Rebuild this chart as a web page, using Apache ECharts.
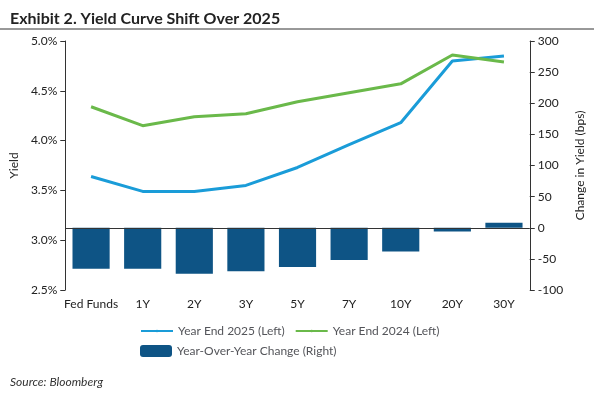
<!DOCTYPE html>
<html><head><meta charset="utf-8">
<script src="https://cdn.jsdelivr.net/npm/echarts@6/dist/echarts.min.js"></script>
<style>body{margin:0;background:#fff}#c{width:594px;height:401px}</style>
</head><body><div id="c"></div>
<script>
const categories=['Fed Funds','1Y','2Y','3Y','5Y','7Y','10Y','20Y','30Y'];
const ye2025=[3.64,3.49,3.49,3.55,3.73,3.96,4.18,4.80,4.85];
const ye2024=[4.34,4.15,4.24,4.27,4.39,4.48,4.57,4.86,4.79];
const yoyChange=[-66,-66,-74,-70,-63,-52,-38,-6,8];
const c=echarts.init(document.getElementById('c'));
const f='Lato, "Open Sans", sans-serif';
c.setOption({
 animation:false,
 textStyle:{fontFamily:f,color:'#222'},
 title:[{text:'Exhibit 2. Yield Curve Shift Over 2025',left:5,top:6,textStyle:{fontSize:16,fontWeight:'bold',color:'#222',fontFamily:f}},
        {text:'Source: Bloomberg',left:5,top:371,textStyle:{fontSize:12,fontStyle:'italic',fontWeight:'normal',color:'#333',fontFamily:f}}],
 graphic:[{type:'line',shape:{x1:0,y1:29,x2:594,y2:29},style:{stroke:'#333',lineWidth:1}}],
 legend:[{data:['Year End 2025 (Left)','Year End 2024 (Left)'],left:135,top:320,itemWidth:32,itemHeight:3,itemGap:10,textStyle:{fontSize:12,fontFamily:f}},
         {data:['Year-Over-Year Change (Right)'],left:135,top:340,itemWidth:32,itemHeight:12,textStyle:{fontSize:12,fontFamily:f}}],
 grid:{left:58,right:64,top:41,bottom:111},
 xAxis:{type:'category',data:categories,axisLine:{show:false},axisTick:{show:false},axisLabel:{fontSize:12,color:'#222',interval:0}},
 yAxis:[{type:'value',min:2.5,max:5,interval:0.5,name:'Yield',nameLocation:'middle',nameGap:44,nameTextStyle:{fontSize:12},
   axisLine:{show:true,lineStyle:{color:'#333'}},axisTick:{show:true},splitLine:{show:false},
   axisLabel:{formatter:v=>v.toFixed(1)+'%',fontSize:12,color:'#222'}},
  {type:'value',min:-100,max:300,interval:50,name:'Change in Yield (bps)',nameLocation:'middle',nameGap:44,nameRotate:90,nameTextStyle:{fontSize:12},
   axisLine:{show:true,lineStyle:{color:'#333'}},axisTick:{show:true},splitLine:{show:false},axisLabel:{fontSize:12,color:'#222'}}],
 series:[
  {name:'Year-Over-Year Change (Right)',type:'bar',yAxisIndex:1,data:yoyChange,barWidth:'72%',itemStyle:{color:'#0e5485'},
   markLine:{silent:true,symbol:'none',label:{show:false},lineStyle:{color:'#333',type:'solid',width:1},data:[{yAxis:0}]}},
  {name:'Year End 2025 (Left)',type:'line',data:ye2025,symbol:'none',lineStyle:{color:'#1a9cd8',width:3},itemStyle:{color:'#1a9cd8'}},
  {name:'Year End 2024 (Left)',type:'line',data:ye2024,symbol:'none',lineStyle:{color:'#6ab94a',width:3},itemStyle:{color:'#6ab94a'}}
 ]
});
</script></body></html>
